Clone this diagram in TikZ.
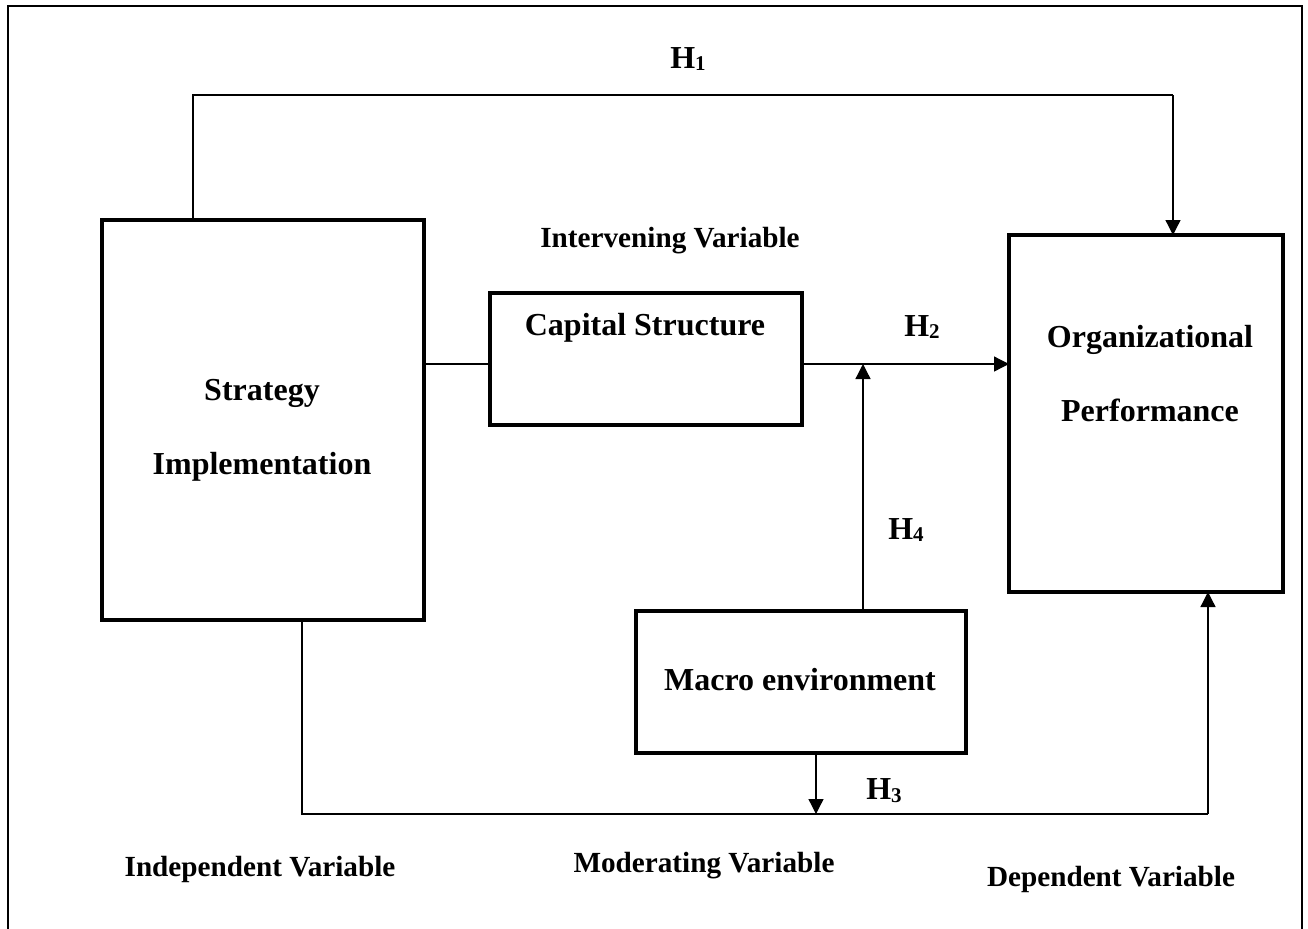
\documentclass[tikz,border=0pt]{standalone}
\usepackage{fontspec}
\setmainfont{Liberation Serif}
\usetikzlibrary{arrows.meta}

% hypothesis label: bold H with a small lowered index
\newcommand{\hyp}[1]{H\raisebox{-0.2ex}{\fontsize{10.5pt}{10.5pt}\selectfont #1}}

\begin{document}
\begin{tikzpicture}[x=0.5pt,y=-0.5pt,
  varbox/.style={draw, line width=1.75pt, rectangle, inner sep=0pt, outer sep=0pt},
  conn/.style={line width=0.65pt},
  arr/.style={conn, -{Triangle[length=7.5pt,width=7.5pt]}},
  boxtext/.style={font=\bfseries\fontsize{16pt}{37pt}\selectfont, align=center, inner sep=0pt},
  vartext/.style={font=\bfseries\fontsize{14.6pt}{17pt}\selectfont, inner sep=0pt},
  hyptext/.style={font=\bfseries\fontsize{16pt}{18pt}\selectfont, inner sep=0pt}]

  \useasboundingbox (0,0) rectangle (1308,928);
  \clip (0,0) rectangle (1308,928);

  % outer frame
  \draw[line width=0.6pt] (8,960) -- (8,6) -- (1302,6) -- (1302,960);

  % variable boxes
  \node[varbox, minimum width=161pt, minimum height=200pt] (S) at (263,420) {};
  \node[varbox, minimum width=156pt, minimum height=66pt] (CS) at (646,359) {};
  \node[varbox, minimum width=137pt, minimum height=178.5pt] (OP) at (1146,413.5) {};
  \node[varbox, minimum width=165pt, minimum height=71pt] (M) at (801,682) {};

  % box texts
  \node[boxtext] (Stxt) at (262,430) {Strategy\\Implementation};
  \node[boxtext] (CStxt) at (645,328) {Capital Structure};
  \node[boxtext] (OPtxt) at (1150,374) {Organizational\\Performance};
  \node[boxtext] (Mtxt) at (800,680) {Macro environment};

  % variable role labels
  \node[vartext] (ivar) at (670,241) {Intervening Variable};
  \node[vartext] (indep) at (260,869) {Independent Variable};
  \node[vartext] (moder) at (704,866) {Moderating Variable};
  \node[vartext] (dep) at (1111,879) {Dependent Variable};

  % routing points
  \coordinate (h1l) at (193,95);
  \coordinate (h1r) at (1173,95);
  \coordinate (mid) at (0,364);
  \coordinate (h4x) at (863,364);
  \coordinate (bl) at (302,814);
  \coordinate (br) at (1208,814);
  \coordinate (h3x) at (816,814);

  % H1: direct path
  \draw[conn] (h1l |- S.north) -- (h1l) -- (h1r);
  \draw[arr] (h1r) -- (h1r |- OP.north);

  % H2: through capital structure
  \draw[conn] (S.east |- mid) -- (CS.west |- mid);
  \draw[arr] (CS.east |- mid) -- (OP.west |- mid);

  % H4: moderation of the mediated path
  \draw[arr] (h4x |- M.north) -- (h4x);

  % H3: moderation of the direct path
  \draw[conn] (bl |- S.south) -- (bl) -- (br);
  \draw[arr] (br) -- (br |- OP.south);
  \draw[arr] (h3x |- M.south) -- (h3x);

  % hypothesis labels
  \node[hyptext] (H1) at (688,59) {\hyp{1}};
  \node[hyptext] (H2) at (922,327) {\hyp{2}};
  \node[hyptext] (H4) at (906,530) {\hyp{4}};
  \node[hyptext] (H3) at (884,791) {\hyp{3}};
\end{tikzpicture}
\end{document}
